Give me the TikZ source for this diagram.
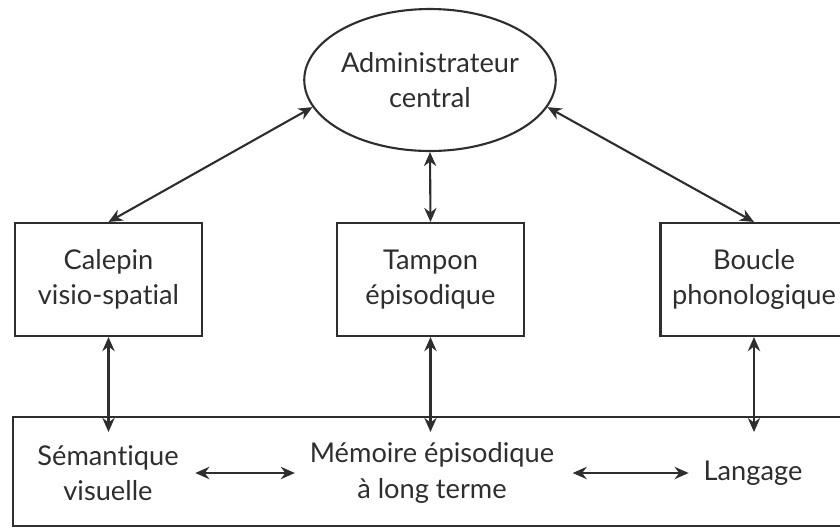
\documentclass[tikz,border=0pt]{standalone}
\usepackage{fontspec}
\setmainfont{Lato}[Ligatures=NoCommon]
\usetikzlibrary{arrows.meta, positioning, shapes.geometric}
\definecolor{inkgray}{HTML}{2E2E2E}

\begin{document}
\begin{tikzpicture}[
    x=0.02cm, y=-0.02cm,
    >={Stealth[length=8pt,width=7pt]},
    txt/.style={font=\fontsize{15.5}{20}\selectfont, text=inkgray, align=center},
    compbox/.style={draw=inkgray, line width=1.2pt, minimum width=3.74cm,
                    minimum height=2.26cm, inner sep=0pt, txt},
    arr/.style={<->, draw=inkgray, line width=1.2pt},
]
\clip (0,0) rectangle (840,529);

\node[ellipse, draw=inkgray, line width=1.2pt, minimum width=4.92cm,
      minimum height=2.84cm, inner sep=0pt, txt] (admin) at (430,80) {Administrateur\\central};

\node[compbox] (calepin) at (108.5,279.5) {Calepin\\visio-spatial};
\node[compbox] (tampon)  at (430.5,279.5) {Tampon\\épisodique};
\node[compbox] (boucle)  at (754,279.5)   {Boucle\\phonologique};

\node[draw=inkgray, line width=1.2pt, minimum width=16.74cm, minimum height=2.18cm,
      inner sep=0pt] (ltm) at (431.5,471.5) {};
\node[txt] (semvis)  at (108,473) {Sémantique\\visuelle};
\node[txt] (memepi)  at (432,473) {Mémoire épisodique\\à long terme};
\node[txt] (langage) at (753,473) {Langage};
\coordinate (ltmin) at (0,432);

\draw[arr] (admin.193) -- (calepin.north);
\draw[arr] (admin.south) -- (tampon.north);
\draw[arr] (admin.-13) -- (boucle.north);

\draw[arr] (calepin.south) -- (calepin.south |- ltmin);
\draw[arr] (tampon.south) -- (tampon.south |- ltmin);
\draw[arr] (boucle.south) -- (boucle.south |- ltmin);

\draw[arr, shorten <=6pt, shorten >=5pt] (semvis) -- (memepi);
\draw[arr, shorten <=7pt, shorten >=5pt] (memepi) -- (langage);
\end{tikzpicture}
\end{document}
